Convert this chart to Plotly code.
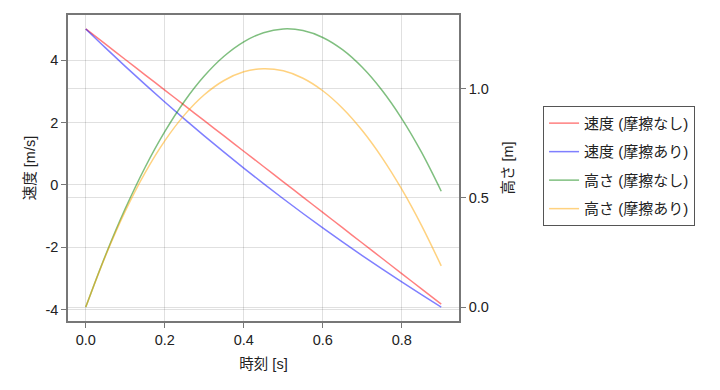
import plotly.graph_objects as go

t = [0.0, 0.05, 0.1, 0.15, 0.2, 0.25, 0.3, 0.35, 0.4, 0.45,
     0.5, 0.55, 0.6, 0.65, 0.7, 0.75, 0.8, 0.85, 0.9]
v_nofric = [5.0, 4.51, 4.02, 3.53, 3.04, 2.55, 2.06, 1.57, 1.08, 0.59,
            0.10, -0.39, -0.88, -1.37, -1.86, -2.35, -2.84, -3.33, -3.82]
v_fric = [5.0, 4.393, 3.800, 3.222, 2.659, 2.109, 1.573, 1.051, 0.541, 0.043,
          -0.442, -0.915, -1.376, -1.826, -2.265, -2.693, -3.110, -3.517, -3.914]
h_nofric = [0.0, 0.2378, 0.451, 0.6398, 0.804, 0.9438, 1.059, 1.1498, 1.216, 1.2578,
            1.275, 1.2678, 1.236, 1.1798, 1.099, 0.9938, 0.864, 0.7098, 0.531]
h_fric = [0.0, 0.2347, 0.4395, 0.6150, 0.7620, 0.8811, 0.9732, 1.0387, 1.0784, 1.0930,
          1.0830, 1.0491, 0.9918, 0.9117, 0.8094, 0.6854, 0.5403, 0.3745, 0.1887]

names = ["速度 (摩擦なし)", "速度 (摩擦あり)", "高さ (摩擦なし)", "高さ (摩擦あり)"]
colors = ["rgba(255,0,0,0.5)", "rgba(0,0,255,0.5)", "rgba(0,128,0,0.5)", "rgba(255,165,0,0.5)"]

x_ticks = [0, 0.2, 0.4, 0.6, 0.8]
x_labels = ["0.0", "0.2", "0.4", "0.6", "0.8"]
v_ticks = [-4, -2, 0, 2, 4]
v_labels = ["-4", "-2", "0", "2", "4"]
h_ticks = [0, 0.5, 1.0]
h_labels = ["0.0", "0.5", "1.0"]

FONT = "Liberation Sans, Noto Sans CJK JP, sans-serif"

fig = go.Figure()
series = [(v_nofric, "y"), (v_fric, "y"), (h_nofric, "y2"), (h_fric, "y2")]
for i, ((vals, ax), nm, c) in enumerate(zip(series, names, colors)):
    fig.add_trace(go.Scatter(x=t, y=vals, yaxis=ax, mode="lines", name=nm,
                             legendgroup=f"g{i}",
                             line=dict(color=c, width=1.5, shape="spline")))

axis_common = dict(showline=True, linecolor="#777777", linewidth=1.5,
                   ticks="outside", ticklen=5, tickcolor="#777777", tickwidth=1,
                   showgrid=True, gridcolor="rgba(0,0,0,0.12)", gridwidth=1,
                   zeroline=False, automargin=False,
                   tickfont=dict(size=14.5, color="#222"),
                   title_font=dict(size=14.5, color="#222"))

fig.update_layout(
    width=720, height=390,
    margin=dict(l=68, r=261, t=15, b=69, autoexpand=False),
    paper_bgcolor="white", plot_bgcolor="white",
    font=dict(family=FONT, size=14, color="#222"),
    xaxis=dict(range=[-0.045, 0.945], tickvals=x_ticks, ticktext=x_labels,
               title=dict(text="時刻 [s]", standoff=12), mirror=True, **axis_common),
    yaxis=dict(range=[-4.36, 5.446], tickvals=v_ticks, ticktext=v_labels,
               title=dict(text="速度 [m/s]", standoff=6), **axis_common),
    yaxis2=dict(range=[-0.064, 1.339], tickvals=h_ticks, ticktext=h_labels,
                overlaying="y", side="right",
                title=dict(text="高さ [m]", standoff=15), **axis_common),
    legend=dict(x=1.215, y=0.703, xanchor="left", yanchor="top",
                bordercolor="#555555", borderwidth=1, bgcolor="white",
                font=dict(size=15, color="#222"), tracegroupgap=6,
                itemwidth=30),
    showlegend=True,
)

fig.write_html("out.html", config={"displayModeBar": False},
               post_script="document.body.style.margin='0';")
